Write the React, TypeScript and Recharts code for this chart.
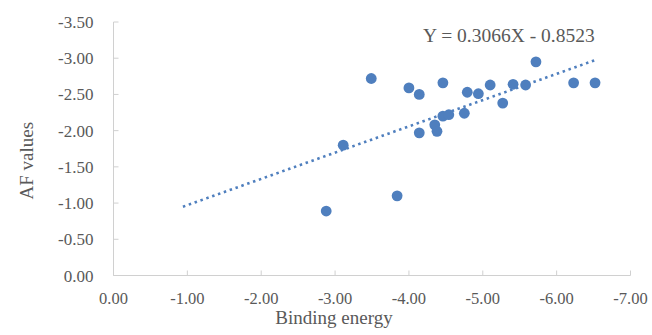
import { ScatterChart, Scatter, XAxis, YAxis, Label, Customized } from "recharts";

// (both axes run negative)
const binding = [-2.88, -3.11, -3.49, -3.84, -4.0, -4.14, -4.14, -4.35, -4.38, -4.46, -4.46, -4.54, -4.75, -4.79, -4.94, -5.1, -5.27, -5.41, -5.58, -5.72, -6.23, -6.52];
const afValues = [-0.89, -1.8, -2.72, -1.1, -2.59, -2.5, -1.97, -2.08, -1.99, -2.66, -2.2, -2.22, -2.24, -2.53, -2.51, -2.63, -2.38, -2.64, -2.63, -2.95, -2.66, -2.66];
const trendX = [-0.94, -6.54];
const trendY = [-0.95, -2.98];
const xTicks = [0, -1, -2, -3, -4, -5, -6, -7];
const yTicks = [0, -0.5, -1, -1.5, -2, -2.5, -3, -3.5];
const equation = "Y = 0.3066X - 0.8523";

const points = binding.map((x, i) => ({ x, y: afValues[i] }));
const trend = trendX.map((x, i) => ({ x, y: trendY[i] }));

const FONT = '"Liberation Serif", "Times New Roman", serif';
const TEXT = "#595959";
const AXIS = "#d0d0d0";
const BLUE = "#4f7fbe";

const fmt = (v: number) => (v === 0 ? "0.00" : v.toFixed(2));

const YTick = ({ x, y, payload }: any) => (
  <g>
    <line x1={x} x2={x + 5} y1={y} y2={y} stroke={AXIS} />
    <text x={x - 20} y={y} dy={6} textAnchor="end" fontSize={17} fontFamily={FONT} fill={TEXT}>
      {fmt(payload.value)}
    </text>
  </g>
);

const XTick = ({ x, y, payload }: any) => (
  <g>
    <line x1={x} x2={x} y1={y} y2={y - 5} stroke={AXIS} />
    <text x={x} y={y + 28} textAnchor="middle" fontSize={16.5} fontFamily={FONT} fill={TEXT}>
      {fmt(payload.value)}
    </text>
  </g>
);

const Dot = (props: any) => <circle cx={props.cx} cy={props.cy} r={5.4} fill={BLUE} />;

export default function App() {
  return (
    <div style={{ position: "absolute", left: 0, top: 0, background: "#fff" }}>
      <ScatterChart width={652} height={335} margin={{ top: 22, right: 21.5, left: 0, bottom: 0 }}>
        <XAxis
          type="number"
          dataKey="x"
          domain={[-7, 0]}
          ticks={xTicks}
          reversed
          height={59.5}
          tickSize={0}
          tickMargin={0}
          tickLine={false}
          tick={<XTick />}
          axisLine={{ stroke: AXIS }}
          allowDataOverflow
        >
          <Label
            content={({ viewBox }: any) => (
              <text
                x={viewBox.x + viewBox.width / 2 - 38}
                y={viewBox.y + 48}
                textAnchor="middle"
                fontSize={19}
                fontFamily={FONT}
                fill={TEXT}
              >
                Binding energy
              </text>
            )}
          />
        </XAxis>
        <YAxis
          type="number"
          dataKey="y"
          domain={[-3.5, 0]}
          ticks={yTicks}
          reversed
          width={113.5}
          tickSize={0}
          tickMargin={0}
          tickLine={false}
          tick={<YTick />}
          axisLine={{ stroke: AXIS }}
          allowDataOverflow
        >
          <Label
            content={({ viewBox }: any) => {
              const cx = viewBox.x + 33;
              const cy = viewBox.y + viewBox.height / 2 + 12;
              return (
                <text
                  x={cx}
                  y={cy}
                  transform={`rotate(-90, ${cx}, ${cy})`}
                  textAnchor="middle"
                  fontSize={19}
                  fontFamily={FONT}
                  fill={TEXT}
                >
                  AF values
                </text>
              );
            }}
          />
        </YAxis>
        <Scatter
          data={trend}
          line={{ stroke: BLUE, strokeWidth: 2.6, strokeDasharray: "2.5 3.7" }}
          shape={() => null}
          isAnimationActive={false}
        />
        <Scatter data={points} shape={<Dot />} isAnimationActive={false} />
        <Customized
          component={() => (
            <text x={423} y={42} fontSize={19.5} fontFamily={FONT} fill={TEXT}>
              {equation}
            </text>
          )}
        />
      </ScatterChart>
    </div>
  );
}
